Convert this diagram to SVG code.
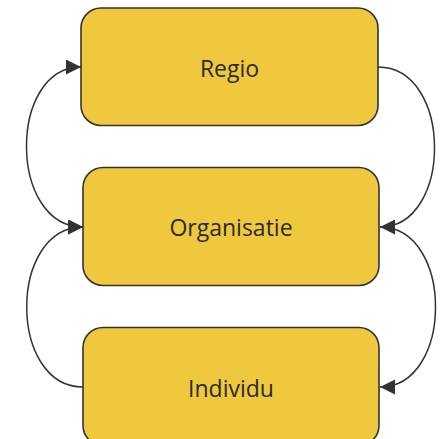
<svg xmlns="http://www.w3.org/2000/svg" width="441" height="439" viewBox="0 0 441 439">
<defs>
<style>
.box{fill:#F0C83E;stroke:#333333;stroke-width:1.6}
.lbl{font-family:"Open Sans","Noto Sans",sans-serif;font-size:23px;fill:#2b2b2b;text-anchor:middle}
.con{fill:none;stroke:#333333;stroke-width:1.5}
</style>
<marker id="arr" markerWidth="16" markerHeight="16" refX="15" refY="7.5" orient="auto-start-reverse" markerUnits="userSpaceOnUse">
<path d="M0,0 L15,7.5 L0,15 Z" fill="#333333"/>
</marker>
</defs>
<rect width="441" height="439" fill="#ffffff"/>
<g id="connectors">
<path class="con" d="M83,227 C8,227 8,67 81,67" marker-start="url(#arr)" marker-end="url(#arr)"/>
<path class="con" d="M83,387 C8,387 8,227 83,227" marker-end="url(#arr)"/>
<path class="con" d="M378,67 C453,67 453,227 380,227" marker-end="url(#arr)"/>
<path class="con" d="M380,227 C454,227 454,387 380,387" marker-end="url(#arr)"/>
</g>
<g id="regio">
<rect class="box" x="81" y="8" width="297" height="117.5" rx="20"/>
<text class="lbl" x="229.5" y="76.5">Regio</text>
</g>
<g id="organisatie">
<rect class="box" x="83" y="167.5" width="296" height="118" rx="20"/>
<text class="lbl" x="231" y="236">Organisatie</text>
</g>
<g id="individu">
<rect class="box" x="83" y="327.5" width="296" height="118" rx="20"/>
<text class="lbl" x="231" y="396.5">Individu</text>
</g>
</svg>
